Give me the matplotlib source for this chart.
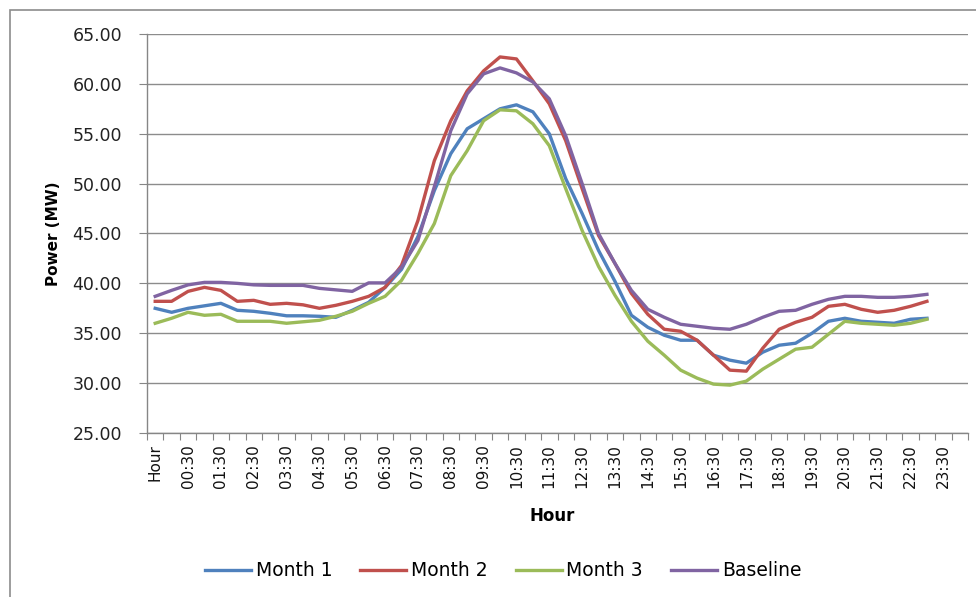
import matplotlib
matplotlib.use("Agg")
import matplotlib.pyplot as plt
from matplotlib.patches import Rectangle

# ---- data ----
times = ["Hour"] + [f"{h:02d}:{m:02d}" for h in range(24) for m in (0, 30)] + ["24:00"]

month1 = [37.5, 37.1, 37.5, 37.75, 38.0, 37.3, 37.2, 37.0, 36.75, 36.75, 36.7, 36.6,
          37.3, 38.1, 39.6, 41.4, 44.7, 49.3, 53.0, 55.5, 56.5, 57.5, 57.9, 57.2,
          55.0, 50.5, 47.0, 43.3, 40.2, 36.8, 35.6, 34.8, 34.3, 34.3, 32.8, 32.3,
          32.0, 33.1, 33.8, 34.0, 35.0, 36.2, 36.5, 36.2, 36.1, 36.0, 36.4, 36.5]
month2 = [38.2, 38.2, 39.2, 39.6, 39.3, 38.2, 38.3, 37.9, 38.0, 37.85, 37.5, 37.8,
          38.2, 38.7, 39.6, 41.8, 46.3, 52.3, 56.3, 59.3, 61.3, 62.7, 62.5, 60.3,
          58.0, 54.3, 49.5, 44.8, 42.0, 39.0, 36.9, 35.4, 35.2, 34.3, 32.8, 31.3,
          31.2, 33.5, 35.4, 36.1, 36.6, 37.7, 37.9, 37.4, 37.1, 37.3, 37.7, 38.2]
month3 = [36.0, 36.5, 37.1, 36.8, 36.9, 36.2, 36.2, 36.2, 36.0, 36.15, 36.3, 36.7,
          37.2, 38.0, 38.7, 40.3, 43.0, 46.0, 50.8, 53.3, 56.3, 57.4, 57.3, 56.0,
          53.8, 49.5, 45.3, 41.7, 38.8, 36.2, 34.2, 32.8, 31.3, 30.5, 29.9, 29.8,
          30.2, 31.4, 32.4, 33.4, 33.6, 34.9, 36.2, 36.0, 35.9, 35.8, 36.0, 36.4]
baseline = [38.7, 39.3, 39.85, 40.1, 40.1, 40.0, 39.85, 39.8, 39.8, 39.8, 39.5, 39.35,
            39.2, 40.05, 40.05, 41.6, 44.3, 49.7, 55.3, 59.0, 61.0, 61.6, 61.1, 60.2,
            58.5, 54.8, 50.0, 45.0, 42.0, 39.3, 37.4, 36.6, 35.9, 35.7, 35.5, 35.4,
            35.9, 36.6, 37.2, 37.3, 37.9, 38.4, 38.7, 38.7, 38.6, 38.6, 38.7, 38.9]

series = [("Month 1", month1, "#4F81BD"),
          ("Month 2", month2, "#C0504D"),
          ("Month 3", month3, "#9BBB59"),
          ("Baseline", baseline, "#8064A2")]

W, H = 976, 597
fig = plt.figure(figsize=(W / 100, H / 100), dpi=100)
plt.rcParams['font.family'] = ['DejaVu Sans']

# outer chart border
fig.patches.append(Rectangle((10 / W, -0.2), 1.2, 1.2 - 10 / H, transform=fig.transFigure,
                             fill=False, edgecolor="#8c8c8c", linewidth=1.2))

ax = fig.add_axes([147 / W, 1 - 433 / H, (968 - 147) / W, (433 - 34) / H])

for name, vals, col in series:
    ax.plot(range(len(vals)), vals, color=col, lw=2.4, label=name, solid_joinstyle="round")

ax.set_ylim(25, 65)
ax.set_yticks([25 + 5 * k for k in range(9)])
ax.set_yticklabels([f"{25 + 5 * k:.2f}" for k in range(9)], fontsize=12.5, color="#222222")
ax.set_xlim(-0.5, len(times) - 0.5)
ax.set_xticks([i - 0.5 for i in range(len(times) + 1)])
ax.set_xticklabels([])
ax.set_xticks(list(range(0, len(times), 2)), minor=True)
ax.set_xticklabels(times[0:len(times):2], minor=True, rotation=90, fontsize=11, color="#111111")
ax.tick_params(axis="x", which="major", length=5, color="#868686", direction="out")
ax.tick_params(axis="x", which="minor", length=0, pad=8)
ax.tick_params(axis="y", length=6, color="#868686", direction="out", pad=12)

ax.grid(axis="y", color="#8c8c8c", lw=1)
ax.set_axisbelow(True)
for s in ("top", "right"):
    ax.spines[s].set_visible(False)
for s in ("left", "bottom"):
    ax.spines[s].set_color("#868686")
    ax.spines[s].set_linewidth(1)

ax.set_xlabel("Hour", fontsize=12, fontweight="bold")
ax.xaxis.set_label_coords(0.493, -0.185)
ax.set_ylabel("Power (MW)", fontsize=11, fontweight="bold")
ax.yaxis.set_label_coords(-0.105, 0.5)

fig.legend(loc="center", bbox_to_anchor=(503 / W, 1 - 571 / H), ncol=4, frameon=False,
           fontsize=13.5, handlelength=2.45, handletextpad=0.25, columnspacing=1.5)

fig.savefig("out.png", dpi=100)
